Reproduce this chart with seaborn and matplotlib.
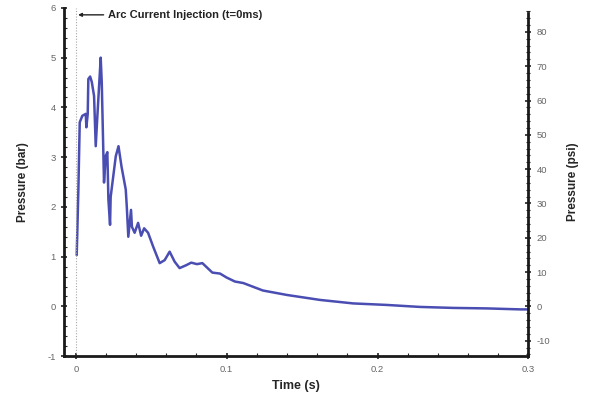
import matplotlib
matplotlib.use("Agg")
import matplotlib.pyplot as plt
from matplotlib.ticker import MultipleLocator
import seaborn as sns
import pandas as pd

# Pressure trace after arc current injection
time_s = [0.0006, 0.0017, 0.0026, 0.0043, 0.0066, 0.0070, 0.0079, 0.0083,
          0.0095, 0.0106, 0.0121, 0.0132, 0.0143, 0.0165, 0.0172, 0.0187,
          0.0198, 0.0209, 0.0216, 0.0227, 0.0231, 0.0265, 0.0283, 0.0303,
          0.0331, 0.0338, 0.0348, 0.0366, 0.0372, 0.0390, 0.0413, 0.0433,
          0.0453, 0.0479, 0.0513, 0.0556, 0.0589, 0.0622, 0.0655, 0.0688,
          0.0733, 0.0765, 0.0803, 0.0839, 0.0905, 0.0956, 0.1000, 0.1055,
          0.1110, 0.1240, 0.1400, 0.1620, 0.1840, 0.2060, 0.2280, 0.2500,
          0.2725, 0.2950, 0.3000]
pressure_bar = [1.03, 2.35, 3.70, 3.83, 3.87, 3.60, 3.87, 4.57,
                4.62, 4.51, 4.23, 3.22, 3.83, 5.00, 4.50, 2.49,
                3.02, 3.10, 2.15, 1.64, 2.20, 3.02, 3.22, 2.81,
                2.35, 2.00, 1.40, 1.94, 1.60, 1.48, 1.68, 1.42,
                1.57, 1.48, 1.20, 0.87, 0.93, 1.10, 0.90, 0.77,
                0.83, 0.88, 0.85, 0.87, 0.68, 0.66, 0.58, 0.50,
                0.47, 0.32, 0.23, 0.13, 0.06, 0.03, -0.01, -0.03,
                -0.04, -0.06, -0.06]

bar_ticks = [-1, 0, 1, 2, 3, 4, 5, 6]
psi_ticks = [-10, 0, 10, 20, 30, 40, 50, 60, 70, 80]
time_ticks = [0, 0.1, 0.2, 0.3]
PSI_PER_BAR = 14.5

sns.set_theme(style="ticks")
plt.rcParams["font.family"] = ["Liberation Sans", "DejaVu Sans"]
plt.rcParams["axes.unicode_minus"] = False

df = pd.DataFrame({"Time (s)": time_s, "Pressure (bar)": pressure_bar})

fig = plt.figure(figsize=(5.93, 3.94), dpi=100)
ax = fig.add_axes([0.108, 0.096, 0.783, 0.884])

line_color = "#4a4db2"
sns.lineplot(data=df, x="Time (s)", y="Pressure (bar)", ax=ax,
             color=line_color, linewidth=1.8, sort=False)

ax.axvline(0, color="#a8a8a8", linestyle=(0, (1, 1.5)), linewidth=0.8)

ax.set_xlim(-0.0078, 0.3)
ax.set_ylim(-1, 6)
ax.set_xticks(time_ticks)
ax.set_xticklabels(["0", "0.1", "0.2", "0.3"])
ax.set_yticks(bar_ticks)
ax.xaxis.set_minor_locator(MultipleLocator(0.02))
ax.yaxis.set_minor_locator(MultipleLocator(0.2))

tick_color = "#666666"
ax.tick_params(which="major", direction="inout", length=5, width=1.2,
               labelsize=6.8, labelcolor=tick_color, color="#222222")
ax.tick_params(which="minor", direction="in", length=2.5, width=0.8,
               color="#222222")

ax.set_xlabel("Time (s)", fontsize=9, fontweight="bold", labelpad=5)
ax.set_ylabel("Pressure (bar)", fontsize=8.5, fontweight="bold", labelpad=13)

ax.spines["top"].set_visible(False)
ax.spines["right"].set_visible(False)
for s in ("left", "bottom"):
    ax.spines[s].set_linewidth(2.0)
    ax.spines[s].set_color("#1a1a1a")

# Secondary pressure scale in psi
ax2 = ax.twinx()
ax2.set_ylim(-1 * PSI_PER_BAR, 6 * PSI_PER_BAR)
ax2.set_yticks(psi_ticks)
ax2.yaxis.set_minor_locator(MultipleLocator(2))
ax2.tick_params(which="major", direction="inout", length=5, width=1.2,
                labelsize=6.8, labelcolor=tick_color, color="#222222")
ax2.tick_params(which="minor", direction="inout", length=3, width=0.8,
                color="#222222")
ax2.spines["top"].set_visible(False)
ax2.spines["left"].set_visible(False)
ax2.spines["bottom"].set_visible(False)
ax2.spines["right"].set_linewidth(2.0)
ax2.spines["right"].set_color("#1a1a1a")
ax2.spines["right"].set_bounds(-1 * PSI_PER_BAR, 85.5)
ax2.set_ylabel("Pressure (psi)", fontsize=8.5, fontweight="bold", labelpad=12)

ax.annotate("Arc Current Injection (t=0ms)",
            xy=(0.0015, 5.86), xytext=(0.0215, 5.86),
            fontsize=8, fontweight="bold", color="#222222",
            va="center", ha="left",
            arrowprops=dict(arrowstyle="-|>", color="#222222", lw=1.0,
                            mutation_scale=5, shrinkA=1, shrinkB=0))

fig.savefig("out.png", dpi=100)
